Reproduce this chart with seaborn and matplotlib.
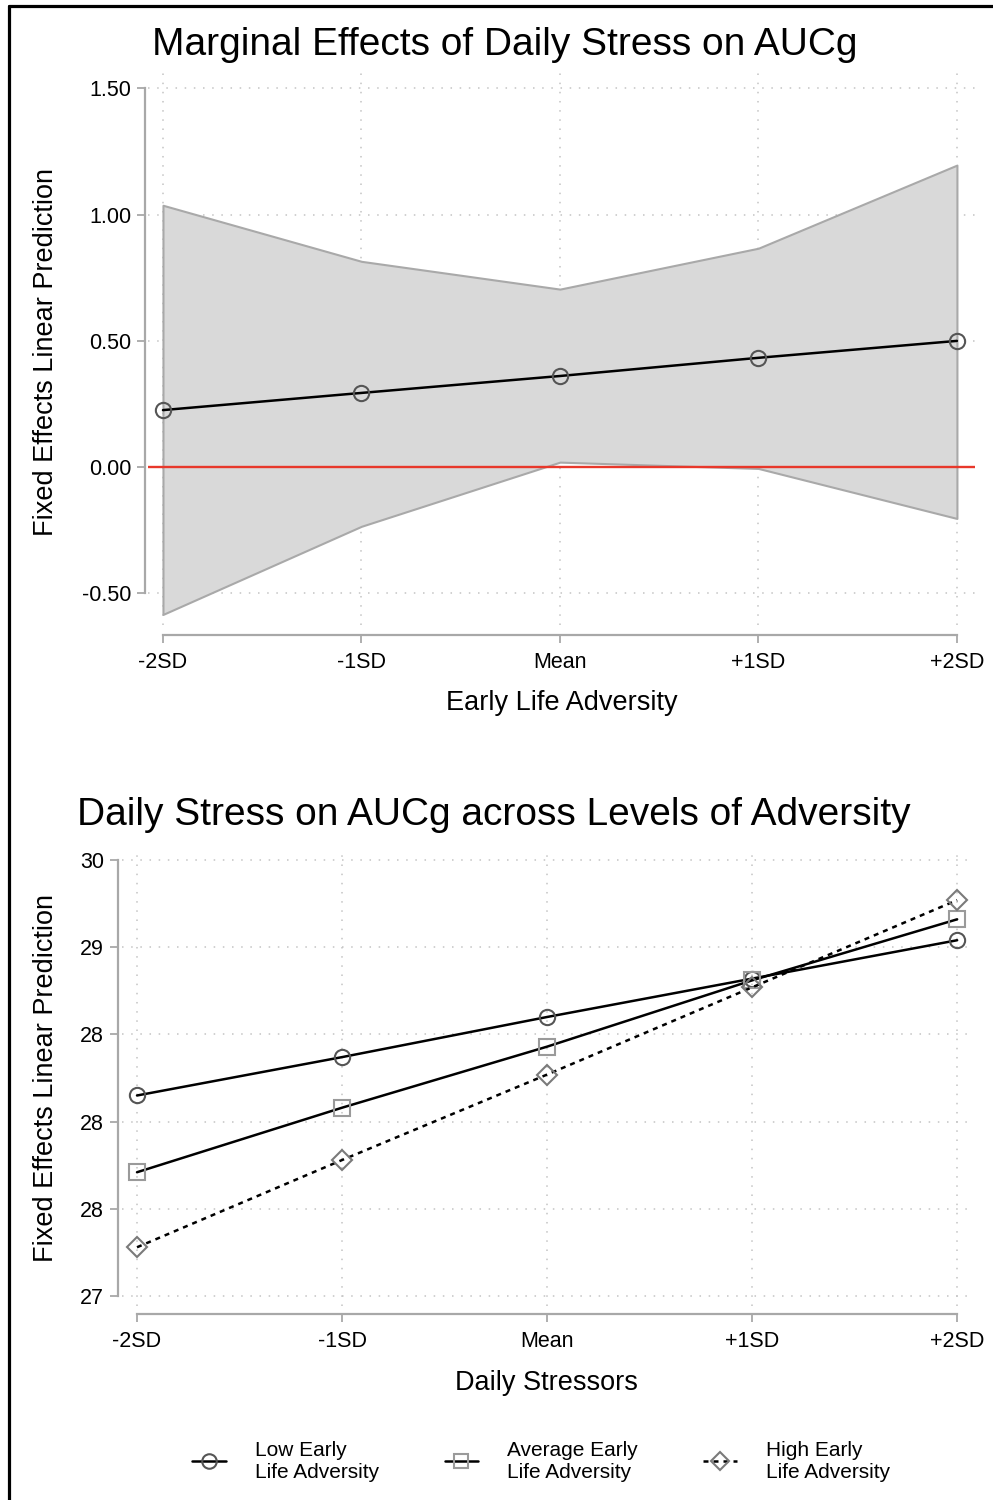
import numpy as np
import pandas as pd
import matplotlib
matplotlib.use("Agg")
import matplotlib.pyplot as plt
import seaborn as sns
from matplotlib.lines import Line2D

# values
x_labels = ["-2SD", "-1SD", "Mean", "+1SD", "+2SD"]
x_pos = [0, 1, 2, 3, 4]

margin_est = [0.226, 0.294, 0.361, 0.433, 0.500]
ci_upper = [1.037, 0.815, 0.705, 0.867, 1.196]
ci_lower = [-0.583, -0.234, 0.020, -0.005, -0.203]

low_adv = [28.15, 28.37, 28.60, 28.82, 29.04]
avg_adv = [27.71, 28.08, 28.43, 28.81, 29.16]
high_adv = [27.28, 27.78, 28.27, 28.77, 29.27]

top_yticks = [-0.5, 0.0, 0.5, 1.0, 1.5]
top_ylabels = ["-0.50", "0.00", "0.50", "1.00", "1.50"]
bot_yticks = [27, 27.5, 28, 28.5, 29, 29.5]
bot_ylabels = ["27", "28", "28", "28", "29", "30"]

sns.set_style("white")
plt.rcParams["font.family"] = ["Liberation Sans", "DejaVu Sans"]
plt.rcParams["text.color"] = "black"
plt.rcParams["axes.labelcolor"] = "black"
plt.rcParams["xtick.labelcolor"] = "black"
plt.rcParams["ytick.labelcolor"] = "black"

fig = plt.figure(figsize=(9.93, 15), dpi=100)

grid_kw = dict(color="#c4c4c4", linestyle=(0, (1, 5)), linewidth=1.1)
spine_col = "#a8a8a8"


def style_axes(ax, left_out, bottom_out, ybounds):
    for s in ["top", "right"]:
        ax.spines[s].set_visible(False)
    ax.spines["left"].set_position(("outward", left_out))
    ax.spines["bottom"].set_position(("outward", bottom_out))
    ax.spines["left"].set_bounds(*ybounds)
    ax.spines["bottom"].set_bounds(0, 4)
    for s in ["left", "bottom"]:
        ax.spines[s].set_color(spine_col)
        ax.spines[s].set_linewidth(1.6)
    ax.tick_params(axis="both", length=6, width=1.3, color=spine_col,
                   labelsize=15.5, left=True, bottom=True)
    ax.tick_params(axis="x", pad=6)
    ax.tick_params(axis="y", pad=4)
    ax.grid(True, **grid_kw)
    ax.set_axisbelow(True)


# ---- top panel ----
ax1 = fig.add_axes([0.149, 0.5833, 0.8328, 0.3713])
ax1.fill_between(x_pos, ci_lower, ci_upper, facecolor="#d9d9d9",
                 edgecolor="#a9a9a9", linewidth=1.5, zorder=1)
ax1.axhline(0, color="#e8382b", linewidth=1.7, zorder=2)
sns.lineplot(x=x_pos, y=margin_est, ax=ax1, color="black", linewidth=1.8,
             marker="o", markersize=11, markerfacecolor="none",
             markeredgecolor="#555555", markeredgewidth=1.5, zorder=3)
ax1.set_xlim(-0.0756, 4.0907)
ax1.set_ylim(-0.625, 1.58)
ax1.set_xticks(x_pos)
ax1.set_xticklabels(x_labels)
ax1.set_yticks(top_yticks)
ax1.set_yticklabels(top_ylabels)
style_axes(ax1, 2.2, 7.2, (-0.5, 1.5))
ax1.set_xlabel("Early Life Adversity", fontsize=19.5)
ax1.set_ylabel("Fixed Effects Linear Prediction", fontsize=19.5)
ax1.xaxis.set_label_coords(0.5, -0.117)
ax1.yaxis.set_label_coords(-0.107, 0.49)

fig.text(0.508, 0.970, "Marginal Effects of Daily Stress on AUCg",
         ha="center", va="center", fontsize=28)

# ---- bottom panel ----
ax2 = fig.add_axes([0.1229, 0.1293, 0.854, 0.304])
df = pd.DataFrame({
    "x": x_pos * 3,
    "y": low_adv + avg_adv + high_adv,
    "grp": ["Low Early\nLife Adversity"] * 5
           + ["Average Early\nLife Adversity"] * 5
           + ["High Early\nLife Adversity"] * 5,
})
series_style = {
    "Low Early\nLife Adversity": dict(marker="o", mec="#555555", ls="-"),
    "Average Early\nLife Adversity": dict(marker="s", mec="#9a9a9a", ls="-"),
    "High Early\nLife Adversity": dict(marker="D", mec="#7a7a7a", ls=(0, (2, 2))),
}
handles = []
for name, st in series_style.items():
    sub = df[df["grp"] == name]
    ms = 10 if st["marker"] == "D" else 11
    sns.lineplot(data=sub, x="x", y="y", ax=ax2, color="black", linewidth=1.8,
                 linestyle=st["ls"], marker=st["marker"], markersize=ms,
                 markerfacecolor="none", markeredgecolor=st["mec"],
                 markeredgewidth=1.5, zorder=3)
    handles.append(Line2D([], [], color="black", linewidth=1.8, linestyle=st["ls"],
                          marker=st["marker"], markersize=ms * 0.95,
                          markerfacecolor="none", markeredgecolor=st["mec"],
                          markeredgewidth=1.5, label=name))
ax2.set_xlim(-0.073, 4.063)
ax2.set_ylim(26.943, 29.557)
ax2.set_xticks(x_pos)
ax2.set_xticklabels(x_labels)
ax2.set_yticks(bot_yticks)
ax2.set_yticklabels(bot_ylabels)
style_axes(ax2, 2.9, 5.8, (27, 29.5))
ax2.set_xlabel("Daily Stressors", fontsize=19.5)
ax2.set_ylabel("Fixed Effects Linear Prediction", fontsize=19.5)
ax2.xaxis.set_label_coords(0.5, -0.140)
ax2.yaxis.set_label_coords(-0.074, 0.5)

fig.text(0.497, 0.4567, "Daily Stress on AUCg across Levels of Adversity",
         ha="center", va="center", fontsize=28)

fig.legend(handles=handles, loc="center", bbox_to_anchor=(0.545, 0.026),
           ncol=3, frameon=False, fontsize=15, handlelength=1.6,
           handletextpad=1.4, columnspacing=3.15, labelspacing=0.2)

# frame edges visible in the screenshot (top and left)
fig.add_artist(Line2D([0.009, 1.0], [0.996, 0.996], color="black",
                      linewidth=2.3, transform=fig.transFigure))
fig.add_artist(Line2D([0.009, 0.009], [0.0, 0.996], color="black",
                      linewidth=2.3, transform=fig.transFigure))

fig.savefig("out.png", dpi=100)
